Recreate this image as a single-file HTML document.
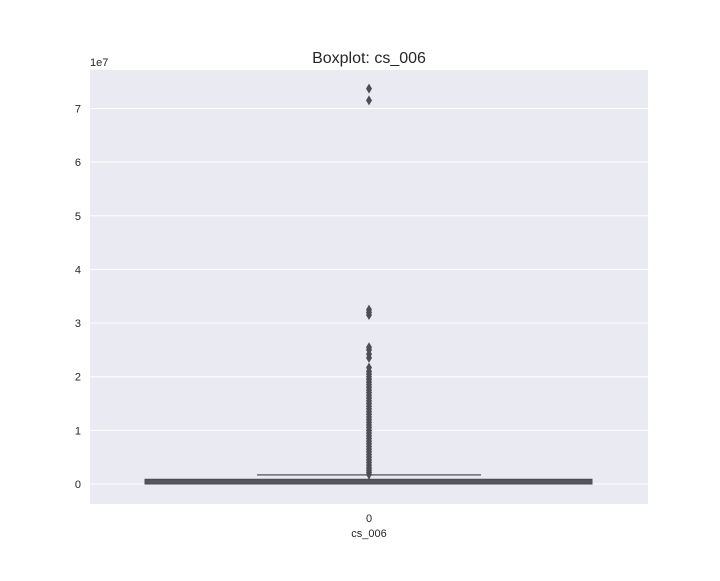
<!DOCTYPE html>
<html><head><meta charset="utf-8"><style>
body{margin:0;background:#fff;font-family:"Liberation Sans",sans-serif}
svg text{font-family:"Liberation Sans",sans-serif;fill:#262626}
</style></head><body>
<svg id="chart" width="720" height="576">
<rect x="90" y="70" width="558" height="434" fill="#eaeaf2"/>
<g id="grid"></g>
<g id="marks"></g>
<text x="369" y="63" text-anchor="middle" font-size="16">Boxplot: cs_006</text>
<text x="90" y="66" font-size="11">1e7</text>
<text x="369" y="522" text-anchor="middle" font-size="11">0</text>
<text x="369" y="537" text-anchor="middle" font-size="11">cs_006</text>
</svg>
<script>
const yTicks=[0,1,2,3,4,5,6,7];
const boxStats={q1:0.0,median:0.03,q3:0.07,whiskerLow:0.0,whiskerHigh:0.17};
const outliers=[0.18,0.22,0.26,0.3,0.35,0.4,0.45,0.5,0.55,0.6,0.65,0.7,0.75,0.8,0.85,0.9,0.95,1.0,1.05,1.1,1.15,1.2,1.25,1.3,1.35,1.4,1.45,1.5,1.55,1.6,1.65,1.7,1.75,1.8,1.85,1.9,1.95,2.0,2.05,2.1,2.17,2.35,2.42,2.5,2.55,3.15,3.2,3.25,7.15,7.37];
const NS='http://www.w3.org/2000/svg';
const x0=90,x1=648,cx=369;
function y(v){return 484-v*53.65;}
const grid=document.getElementById('grid'),marks=document.getElementById('marks');
function mk(tag,attrs,parent){const e=document.createElementNS(NS,tag);for(const k in attrs)e.setAttribute(k,attrs[k]);parent.appendChild(e);return e;}
yTicks.forEach(t=>{
 const l=mk('line',{x1:x0,x2:x1,y1:y(t),y2:y(t),stroke:'#fff','stroke-width':1},grid);
 
 
 const tx=mk('text',{x:81,y:y(t)+4,'text-anchor':'end','font-size':11},grid);
 tx.textContent=t;
 
 
});
const col='#4d4d55';
const w=mk('line',{x1:cx,x2:cx,y1:y(boxStats.q3),y2:y(boxStats.whiskerHigh),stroke:col,'stroke-width':1.5},marks);


const cap=mk('line',{x1:257,x2:481,y1:y(boxStats.whiskerHigh),y2:y(boxStats.whiskerHigh),stroke:'#6a6a72','stroke-width':1.5},marks);


const b=mk('rect',{x:145,width:447,y:y(boxStats.q3)-1,height:Math.max(3,y(boxStats.q1)-y(boxStats.q3)+1),fill:'#55555d',stroke:col,'stroke-width':1},marks);


const seg=mk('line',{x1:cx,x2:cx,y1:y(0.18),y2:y(2.1),stroke:col,'stroke-width':4},marks);


outliers.forEach(v=>{
 const yy=y(v);
 const p=mk('polygon',{points:`${cx},${yy-5} ${cx+3},${yy} ${cx},${yy+5} ${cx-3},${yy}`,fill:col},marks);
 
 
});
</script>
</body></html>
